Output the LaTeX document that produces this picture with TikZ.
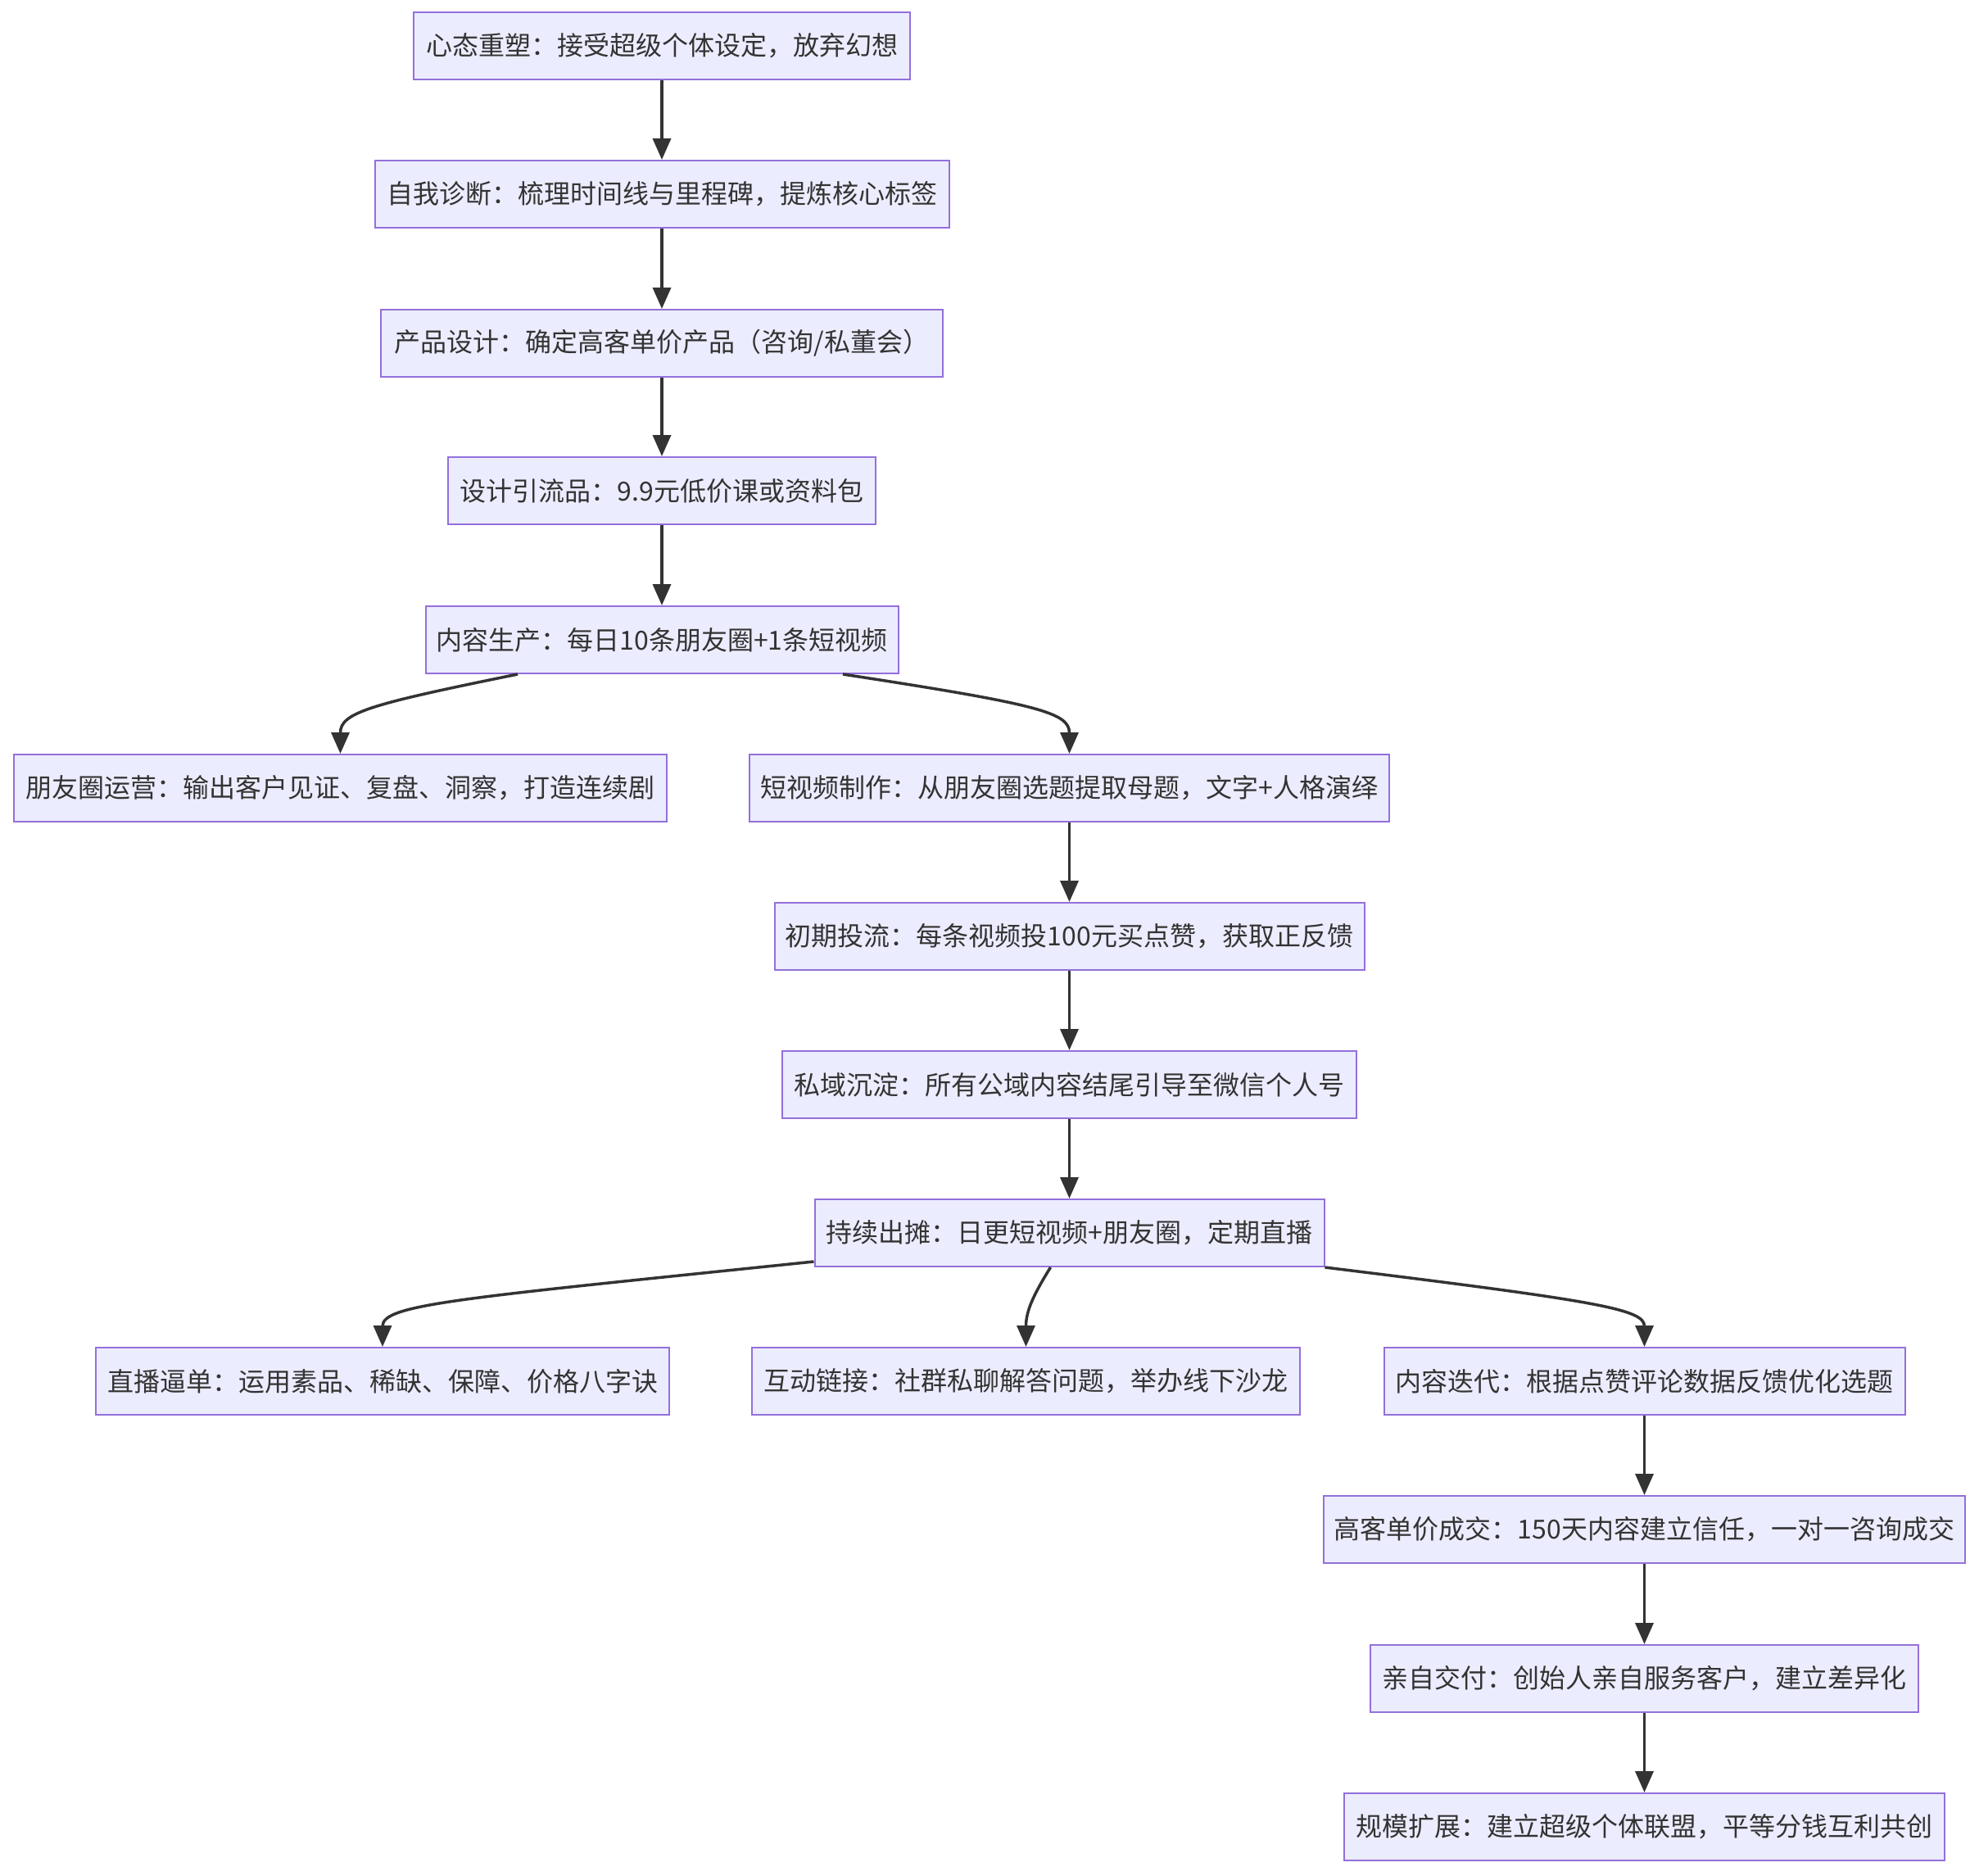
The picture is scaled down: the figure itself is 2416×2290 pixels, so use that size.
\documentclass[tikz,border=0pt]{standalone}
\usepackage{fontspec}
\setmainfont{Noto Sans CJK SC}
\usetikzlibrary{arrows.meta}
\definecolor{nodefill}{HTML}{ECECFF}
\definecolor{nodestroke}{HTML}{9370DB}
\definecolor{txt}{HTML}{333333}
\definecolor{edge}{HTML}{333333}
\begin{document}
\begin{tikzpicture}[x=1pt,y=-1pt,
  box/.style={draw=nodestroke, fill=nodefill, line width=2pt, text=txt,
    minimum height=82pt, inner xsep=2pt, inner ysep=0pt,
    font=\fontsize{32}{37}\selectfont},
  conn/.style={draw=edge, line width=3.5pt, -{Triangle[length=26pt,width=22pt]}}]
\useasboundingbox (0,0) rectangle (2416,2290);
\fill[white] (0,0) rectangle (2416,2290);
\node[box, minimum width=606pt] (n1) at (808,56) {心态重塑：接受超级个体设定，放弃幻想};
\node[box, minimum width=701pt] (n2) at (808,237) {自我诊断：梳理时间线与里程碑，提炼核心标签};
\node[box, minimum width=686pt] (n3) at (808,419) {产品设计：确定高客单价产品（咨询/私董会）};
\node[box, minimum width=522pt] (n4) at (808,599) {设计引流品：9.9元低价课或资料包};
\node[box, minimum width=577pt] (n5) at (808,781) {内容生产：每日10条朋友圈+1条短视频};
\node[box, minimum width=797pt] (n6) at (415.5,962) {朋友圈运营：输出客户见证、复盘、洞察，打造连续剧};
\node[box, minimum width=781pt] (n7) at (1305.5,962) {短视频制作：从朋友圈选题提取母题，文字+人格演绎};
\node[box, minimum width=720pt] (n8) at (1305.5,1143) {初期投流：每条视频投100元买点赞，获取正反馈};
\node[box, minimum width=701pt] (n9) at (1305.5,1324) {私域沉淀：所有公域内容结尾引导至微信个人号};
\node[box, minimum width=622pt] (n10) at (1305.5,1505) {持续出摊：日更短视频+朋友圈，定期直播};
\node[box, minimum width=700pt] (n11) at (467,1686) {直播逼单：运用素品、稀缺、保障、价格八字诀};
\node[box, minimum width=669pt] (n12) at (1252.5,1686) {互动链接：社群私聊解答问题，举办线下沙龙};
\node[box, minimum width=636pt] (n13) at (2007.5,1686) {内容迭代：根据点赞评论数据反馈优化选题};
\node[box, minimum width=783pt] (n14) at (2007.5,1867) {高客单价成交：150天内容建立信任，一对一咨询成交};
\node[box, minimum width=669pt] (n15) at (2007.5,2049) {亲自交付：创始人亲自服务客户，建立差异化};
\node[box, minimum width=733pt] (n16) at (2007.5,2230) {规模扩展：建立超级个体联盟，平等分钱互利共创};

\draw[conn] (n1) -- (n2);
\draw[conn] (n2) -- (n3);
\draw[conn] (n3) -- (n4);
\draw[conn] (n4) -- (n5);
\draw[conn] ([xshift=-176pt]n5.south) .. controls (450,860) and (415.5,870) .. (n6.north);
\draw[conn] ([xshift=221pt]n5.south) .. controls (1270,860) and (1305.5,870) .. (n7.north);
\draw[conn] (n7) -- (n8);
\draw[conn] (n8) -- (n9);
\draw[conn] (n9) -- (n10);
\draw[conn] ([yshift=7pt]n10.south west) .. controls (560,1585) and (467,1592) .. (n11.north);
\draw[conn] ([xshift=-23pt]n10.south) .. controls (1262,1580) and (1252.5,1600) .. (n12.north);
\draw[conn] (n10.south east) .. controls (1950,1588) and (2007.5,1598) .. (n13.north);
\draw[conn] (n13) -- (n14);
\draw[conn] (n14) -- (n15);
\draw[conn] (n15) -- (n16);
\end{tikzpicture}
\end{document}
